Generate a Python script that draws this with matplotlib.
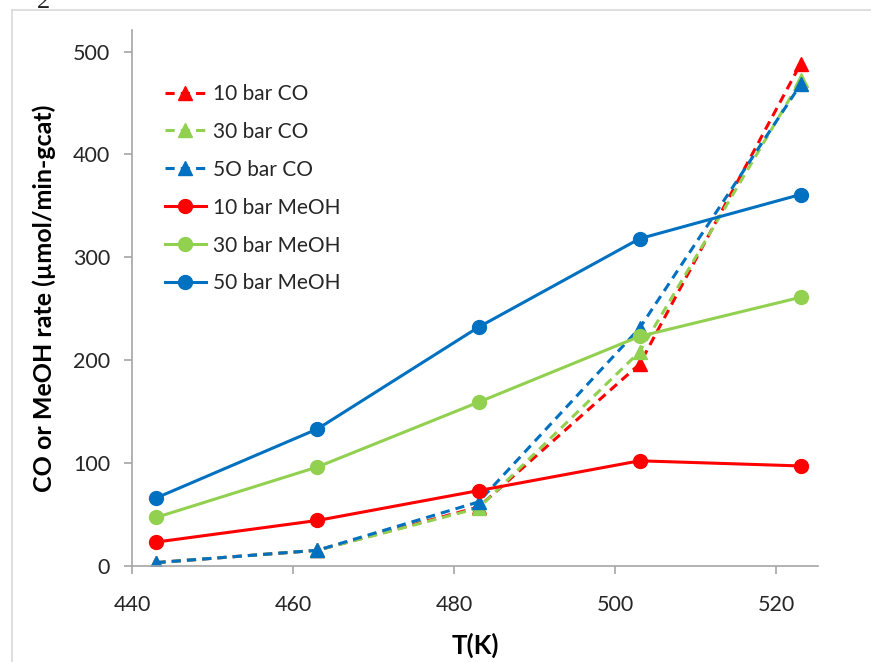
import matplotlib
matplotlib.use('Agg')
import matplotlib.pyplot as plt
from matplotlib.lines import Line2D

plt.rcParams['font.family'] = ['Lato', 'DejaVu Sans']

# reaction temperature (K)
temps = [443, 463, 483, 503, 523]

# CO formation rate (umol/min-gcat)
co_10bar = [3, 15, 57, 196, 488]
co_30bar = [3, 15, 56, 208, 472]
co_50bar = [3, 15, 62, 231, 468]

# methanol formation rate (umol/min-gcat)
meoh_10bar = [23, 44, 73, 102, 97]
meoh_30bar = [47, 96, 159, 223, 261]
meoh_50bar = [66, 133, 232, 318, 361]

labels = ['10 bar CO', '30 bar CO', '5O bar CO',
          '10 bar MeOH', '30 bar MeOH', '50 bar MeOH']

RED = '#FF0000'
GREEN = '#92D050'
BLUE = '#0070C0'
AXIS_GREY = '#A6A6A6'

fig = plt.figure(figsize=(8.71, 6.62), dpi=100)
ax = fig.add_axes([0.1519, 0.1455, 0.7876, 0.8092])

dash = (3, 2)
for vals, col, lab in [(co_10bar, RED, labels[0]),
                       (co_30bar, GREEN, labels[1]),
                       (co_50bar, BLUE, labels[2])]:
    ax.plot(temps, vals, color=col, lw=2.2, dashes=dash, marker='^',
            markersize=10, label=lab)

for vals, col, lab in [(meoh_10bar, RED, labels[3]),
                       (meoh_30bar, GREEN, labels[4]),
                       (meoh_50bar, BLUE, labels[5])]:
    ax.plot(temps, vals, color=col, lw=2.2, marker='o', markersize=10,
            label=lab)

ax.set_xlim(440, 525.2)
ax.set_ylim(0, 521)
ax.set_xticks([440, 460, 480, 500, 520])
ax.set_yticks([0, 100, 200, 300, 400, 500])

for side in ['top', 'right']:
    ax.spines[side].set_visible(False)
for side in ['left', 'bottom']:
    ax.spines[side].set_color(AXIS_GREY)
    ax.spines[side].set_linewidth(1.2)

ax.tick_params(axis='both', direction='out', length=6, width=1.2,
               color=AXIS_GREY, labelsize=15.5, labelcolor='#262626')
ax.tick_params(axis='y', pad=10)
ax.tick_params(axis='x', pad=15)

ax.set_xlabel('T(K)', fontsize=18.5, fontweight='bold', labelpad=13)
ax.set_ylabel('CO or MeOH rate (µmol/min-gcat)', fontsize=18,
              fontweight='bold', labelpad=12)

leg = ax.legend(loc='upper left', bbox_to_anchor=(0.035, 0.915), frameon=False,
                fontsize=15, handlelength=2.0, handletextpad=0.3,
                labelspacing=0.86, borderaxespad=0)
for t in leg.get_texts():
    t.set_color('#262626')

# page frame lines and stray page number above the chart
fig.add_artist(Line2D([12 / 871, 1], [1 - 10 / 662, 1 - 10 / 662],
                      transform=fig.transFigure, color='#D9D9D9', lw=1.2))
fig.add_artist(Line2D([12 / 871, 12 / 871], [0, 1 - 10 / 662],
                      transform=fig.transFigure, color='#D9D9D9', lw=1.2))
fig.text(37 / 871, 1 - 8 / 662, '2', fontsize=19, family='Liberation Serif',
         va='baseline', ha='left', color='#222222')

fig.savefig('out.png', dpi=100)
